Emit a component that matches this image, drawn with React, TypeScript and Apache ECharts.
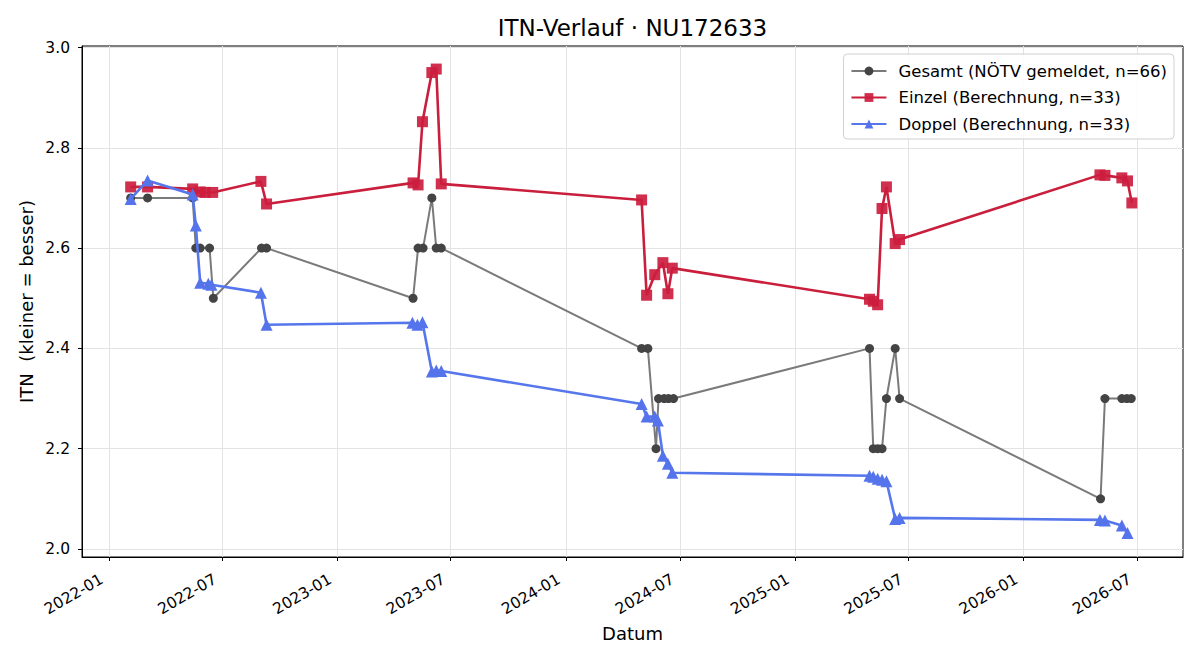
import React, { useEffect, useRef } from "react";
import * as echarts from "echarts";

const FONT = "DejaVu Sans";

const gesamtDates = [
  "2022-02-05", "2022-03-04", "2022-05-15", "2022-05-20", "2022-05-27", "2022-06-11", "2022-06-17", "2022-09-02", "2022-09-10",
  "2023-05-02", "2023-05-10", "2023-05-18", "2023-06-01", "2023-06-08", "2023-06-16",
  "2024-05-01", "2024-05-11", "2024-05-24", "2024-05-28", "2024-06-06", "2024-06-13", "2024-06-21",
  "2025-04-30", "2025-05-06", "2025-05-13", "2025-05-20", "2025-05-27", "2025-06-10", "2025-06-17",
  "2026-05-04", "2026-05-11", "2026-06-07", "2026-06-15", "2026-06-22",
];
const gesamtValues = [
  2.7, 2.7, 2.7, 2.6, 2.6, 2.6, 2.5, 2.6, 2.6,
  2.5, 2.6, 2.6, 2.7, 2.6, 2.6,
  2.4, 2.4, 2.2, 2.3, 2.3, 2.3, 2.3,
  2.4, 2.2, 2.2, 2.2, 2.3, 2.4, 2.3,
  2.1, 2.3, 2.3, 2.3, 2.3,
];

const einzelDates = [
  "2022-02-05", "2022-03-04", "2022-05-15", "2022-05-27", "2022-06-04", "2022-06-16", "2022-09-01", "2022-09-10",
  "2023-05-02", "2023-05-10", "2023-05-17", "2023-06-01", "2023-06-08", "2023-06-16",
  "2024-05-01", "2024-05-09", "2024-05-22", "2024-06-04", "2024-06-12", "2024-06-19",
  "2025-04-30", "2025-05-06", "2025-05-13", "2025-05-20", "2025-05-27", "2025-06-10", "2025-06-17",
  "2026-05-03", "2026-05-11", "2026-06-07", "2026-06-16", "2026-06-23",
];
const einzelValues = [
  2.722, 2.722, 2.718, 2.712, 2.711, 2.711, 2.733, 2.688,
  2.730, 2.726, 2.852, 2.950, 2.957, 2.728,
  2.696, 2.506, 2.547, 2.571, 2.509, 2.560,
  2.498, 2.494, 2.487, 2.679, 2.722, 2.609, 2.617,
  2.746, 2.745, 2.740, 2.734, 2.690,
];

const doppelDates = [
  "2022-02-05", "2022-03-04", "2022-05-15", "2022-05-20", "2022-05-27", "2022-06-09", "2022-06-14", "2022-09-01", "2022-09-10",
  "2023-05-01", "2023-05-09", "2023-05-17", "2023-06-01", "2023-06-08", "2023-06-16",
  "2024-05-01", "2024-05-09", "2024-05-22", "2024-05-27", "2024-06-04", "2024-06-12", "2024-06-19",
  "2025-04-30", "2025-05-06", "2025-05-13", "2025-05-20", "2025-05-27", "2025-06-10", "2025-06-17",
  "2026-05-03", "2026-05-11", "2026-06-07", "2026-06-16",
];
const doppelValues = [
  2.698, 2.735, 2.707, 2.645, 2.531, 2.529, 2.527, 2.511, 2.447,
  2.451, 2.447, 2.452, 2.354, 2.356, 2.355,
  2.289, 2.264, 2.264, 2.256, 2.186, 2.170, 2.152,
  2.146, 2.144, 2.140, 2.138, 2.135, 2.060, 2.062,
  2.058, 2.057, 2.047, 2.032,
];

const xTickDates = [
  "2022-01-01", "2022-07-01", "2023-01-01", "2023-07-01", "2024-01-01",
  "2024-07-01", "2025-01-01", "2025-07-01", "2026-01-01", "2026-07-01",
];
const yTicks = [2.0, 2.2, 2.4, 2.6, 2.8, 3.0];

const seriesNames = [
  "Gesamt (NÖTV gemeldet, n=66)",
  "Einzel (Berechnung, n=33)",
  "Doppel (Berechnung, n=33)",
];

function ts(s: string): number {
  const [y, m, d] = s.split("-").map(Number);
  return new Date(y, m - 1, d).getTime();
}
function pairs(dates: string[], values: number[]) {
  return dates.map((d, i) => [ts(d), values[i]]);
}
function pad(n: number) {
  return n < 10 ? "0" + n : "" + n;
}

export default function App() {
  const ref = useRef<HTMLDivElement>(null);
  useEffect(() => {
    document.body.style.margin = "0";
    if (!ref.current) return;
    const chart = echarts.init(ref.current, undefined, { renderer: "svg" });
    const xMin = new Date(2021, 10, 19, 6).getTime();
    const xMax = new Date(2026, 8, 12, 16).getTime();
    const xTickValues = xTickDates.map(ts);
    chart.setOption({
      animation: false,
      backgroundColor: "#ffffff",
      textStyle: { fontFamily: FONT },
      grid: {
        left: 82,
        right: 17,
        top: 46,
        bottom: 103,
        show: true,
        borderColor: "#000000",
        borderWidth: 1,
        backgroundColor: "transparent",
      },
      xAxis: {
        type: "value",
        min: xMin,
        max: xMax,
        scale: true,
        axisLine: { show: true, onZero: false, lineStyle: { color: "#000", width: 1 } },
        axisTick: {
          show: true,
          length: 4,
          lineStyle: { color: "#000" },
          customValues: xTickValues,
        },
        axisLabel: {
          customValues: xTickValues,
          rotate: 30,
          margin: 17,
          color: "#000",
          fontSize: 15.5,
          fontFamily: FONT,
          padding: [0, 8, 0, 0],
          formatter: (v: number) => {
            const d = new Date(v);
            return d.getFullYear() + "-" + pad(d.getMonth() + 1);
          },
        },
        splitLine: { show: true, lineStyle: { color: "#e3e3e3", width: 1 } },
      },
      yAxis: {
        type: "value",
        min: 1.984,
        max: 3.003,
        axisLine: { show: true, lineStyle: { color: "#000", width: 1 } },
        axisTick: {
          show: true,
          length: 4,
          lineStyle: { color: "#000" },
          customValues: yTicks,
        },
        axisLabel: {
          customValues: yTicks,
          margin: 12,
          color: "#000",
          fontSize: 15.5,
          fontFamily: FONT,
          formatter: (v: number) => v.toFixed(1),
        },
        splitLine: { show: true, lineStyle: { color: "#e3e3e3", width: 1 } },
      },
      legend: {
        orient: "vertical",
        right: 26,
        top: 54,
        padding: [7, 7, 5, 7],
        itemWidth: 35,
        itemHeight: 11,
        itemGap: 6.5,
        backgroundColor: "rgba(255,255,255,0.85)",
        borderColor: "#d0d0d0",
        borderWidth: 1,
        borderRadius: 4,
        textStyle: {
          fontSize: 16.5,
          fontFamily: FONT,
          color: "#000",
          lineHeight: 20,
          padding: [0, 0, 0, 7],
        },
        data: seriesNames,
      },
      graphic: [
        {
          type: "text",
          x: 632.5,
          y: 28,
          style: {
            text: "ITN-Verlauf · NU172633",
            fontSize: 23,
            fontFamily: FONT,
            fill: "#000",
            align: "center",
            verticalAlign: "middle",
            textAlign: "center",
            textVerticalAlign: "middle",
          },
        },
        {
          type: "text",
          x: 632.5,
          y: 633,
          style: {
            text: "Datum",
            fontSize: 18,
            fontFamily: FONT,
            fill: "#000",
            align: "center",
            verticalAlign: "middle",
            textAlign: "center",
            textVerticalAlign: "middle",
          },
        },
        {
          type: "text",
          x: 26,
          y: 301.5,
          rotation: Math.PI / 2,
          style: {
            text: "ITN  (kleiner = besser)",
            fontSize: 18,
            fontFamily: FONT,
            fill: "#000",
            align: "center",
            verticalAlign: "middle",
            textAlign: "center",
            textVerticalAlign: "middle",
          },
        },
      ],
      series: [
        {
          name: seriesNames[0],
          type: "line",
          data: pairs(gesamtDates, gesamtValues),
          symbol: "circle",
          symbolSize: 9,
          showAllSymbol: true,
          lineStyle: { color: "#7a7a7a", width: 2 },
          itemStyle: { color: "#444444", borderWidth: 0 },
          z: 2,
        },
        {
          name: seriesNames[1],
          type: "line",
          data: pairs(einzelDates, einzelValues),
          symbol: "rect",
          symbolSize: 11,
          showAllSymbol: true,
          lineStyle: { color: "#c91f3d", width: 2.6 },
          itemStyle: { color: "#cc1d3e", opacity: 0.92, borderWidth: 0 },
          z: 3,
        },
        {
          name: seriesNames[2],
          type: "line",
          data: pairs(doppelDates, doppelValues),
          symbol: "triangle",
          symbolSize: 12,
          showAllSymbol: true,
          lineStyle: { color: "#5676ec", width: 2.6 },
          itemStyle: { color: "#5574ec", borderWidth: 0 },
          z: 4,
        },
      ],
    });
    return () => chart.dispose();
  }, []);
  return <div ref={ref} style={{ width: 1200, height: 660 }} />;
}
